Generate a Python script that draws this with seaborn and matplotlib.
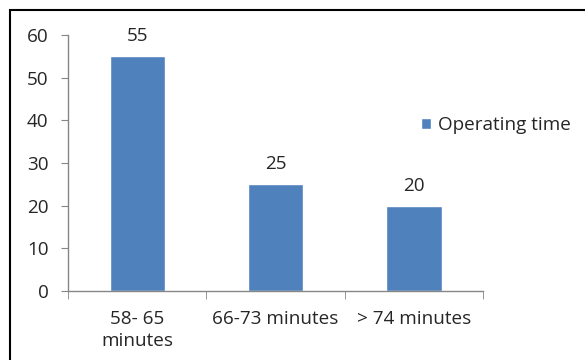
import matplotlib
matplotlib.use("Agg")
import matplotlib.pyplot as plt
import seaborn as sns
import pandas as pd
from matplotlib.patches import Rectangle
from matplotlib.ticker import FixedLocator

categories = ["58- 65\nminutes", "66-73 minutes", "> 74 minutes"]
values = [55, 25, 20]
series_name = "Operating time"
yticks = [0, 10, 20, 30, 40, 50, 60]

sns.set_style("white")
plt.rcParams['font.family'] = ['Open Sans', 'DejaVu Sans']

df = pd.DataFrame({"cat": categories, "val": values, "series": series_name})

fs = 13.6
fig = plt.figure(figsize=(5.85, 3.6), dpi=100)
ax = fig.add_axes([68/585, 1-291/360, (483-68)/585, (291-35)/360])
color = "#4F81BD"
sns.barplot(data=df, x="cat", y="val", hue="series", palette=[color],
            width=0.4, ax=ax, saturation=1, legend=True)

ax.set_ylim(0, 60)
ax.set_xlim(-0.5, 2.5)
ax.set_yticks(yticks)
ax.set_xlabel("")
ax.set_ylabel("")
axis_color = "#868686"
for s in ["top", "right"]:
    ax.spines[s].set_visible(False)
for s in ["left", "bottom"]:
    ax.spines[s].set_color(axis_color)
    ax.spines[s].set_linewidth(1)

ax.tick_params(axis="y", direction="out", length=5, color=axis_color, labelsize=fs, pad=9, left=True)
ax.set_xticks([0, 1, 2])
ax.set_xticklabels(categories, fontsize=fs, linespacing=1.25)
ax.tick_params(axis="x", length=0, pad=14)
ax.xaxis.set_minor_locator(FixedLocator([-0.5, 0.5, 1.5, 2.5]))
ax.tick_params(axis="x", which="minor", direction="out", length=6, color=axis_color, bottom=True)

for c in ax.containers:
    ax.bar_label(c, labels=[str(v) for v in values], padding=8, fontsize=fs)

leg = ax.legend(loc="center left", bbox_to_anchor=(421/585, 1-125/360),
                bbox_transform=fig.transFigure, frameon=False, borderaxespad=0,
                borderpad=0, fontsize=fs, handlelength=0.53, handleheight=0.53,
                handletextpad=0.35)

fig.patches.append(Rectangle((10/585, -0.05), 1.1, 1 - 10/360 + 0.05,
                             transform=fig.transFigure, fill=False,
                             edgecolor="black", linewidth=1.5))

fig.savefig("out.png", dpi=100)
